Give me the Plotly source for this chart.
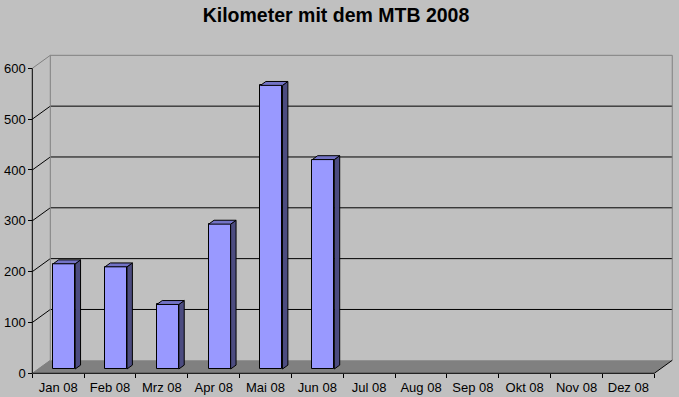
import plotly.graph_objects as go

# ---- data ----
months = ["Jan 08", "Feb 08", "Mrz 08", "Apr 08", "Mai 08", "Jun 08",
          "Jul 08", "Aug 08", "Sep 08", "Okt 08", "Nov 08", "Dez 08"]
km = [207, 201, 127, 285, 558, 412, None, None, None, None, None, None]
y_ticks = [0, 100, 200, 300, 400, 500, 600]
title_text = "Kilometer mit dem MTB 2008"

# ---- geometry (pixel calibration of the pseudo-3D frame) ----
W, H = 679, 397
L, R, T, B = 22, 3, 50, 17
XPX = 51.83          # px per category
YPX = 0.5083         # px per km
X0PX = 32.3          # pixel of category edge -0.5
Y0PX = 373.3         # pixel of value 0 (front)
plot_w = W - L - R
plot_h = H - T - B
xr = [-0.5 - (X0PX - L) / XPX, -0.5 + (W - R - X0PX) / XPX]
yr = [-((H - B) - Y0PX) / YPX, (Y0PX - T) / YPX]
DX = 18 / XPX        # depth offset in x data units
DY = 13 / YPX        # depth offset in y data units
FRONT = 0.33         # bar front face depth fraction
DEPTH = 0.30         # bar depth fraction
BW = 22 / XPX        # bar width

n = len(months)
xl, xrt = -0.5, n - 0.5
ymax = y_ticks[-1]

BG = "#C0C0C0"
FACE = "#9999FF"
TOP = "#7373C6"
SIDE = "#4C4C80"
GRAY = "#808080"

shapes = []
# floor
shapes.append(dict(type="path", layer="below",
                   path=f"M {xl},0 L {xrt},0 L {xrt+DX},{DY} L {xl+DX},{DY} Z",
                   fillcolor=GRAY, line=dict(width=0)))
# back wall gridlines + left wall diagonals
for v in y_ticks[1:-1]:
    shapes.append(dict(type="line", layer="below", x0=xl + DX, x1=xrt + DX,
                       y0=v + DY, y1=v + DY, line=dict(color="black", width=1)))
    shapes.append(dict(type="line", layer="below", x0=xl, x1=xl + DX,
                       y0=v, y1=v + DY, line=dict(color="black", width=1)))
# wall borders (gray)
shapes.append(dict(type="line", layer="below", x0=xl, x1=xl + DX, y0=ymax, y1=ymax + DY,
                   line=dict(color=GRAY, width=1)))
shapes.append(dict(type="line", layer="below", x0=xl + DX, x1=xrt + DX, y0=ymax + DY, y1=ymax + DY,
                   line=dict(color=GRAY, width=1)))
shapes.append(dict(type="line", layer="below", x0=xl + DX, x1=xl + DX, y0=DY, y1=ymax + DY,
                   line=dict(color=GRAY, width=1)))
shapes.append(dict(type="line", layer="below", x0=xrt + DX, x1=xrt + DX, y0=DY, y1=ymax + DY,
                   line=dict(color=GRAY, width=1)))
shapes.append(dict(type="line", layer="below", x0=xl, x1=xl + DX, y0=0, y1=DY,
                   line=dict(color=GRAY, width=1)))
# axes lines
shapes.append(dict(type="line", layer="above", x0=xl, x1=xl, y0=0, y1=ymax,
                   line=dict(color="black", width=1)))
shapes.append(dict(type="line", layer="above", x0=xl, x1=xrt, y0=0, y1=0,
                   line=dict(color="black", width=1)))
shapes.append(dict(type="line", layer="above", x0=xrt, x1=xrt + DX, y0=0, y1=DY,
                   line=dict(color="black", width=1)))

fig = go.Figure()

# front faces via library bars
bx = [i + FRONT * DX for i in range(n)]
fig.add_trace(go.Bar(x=bx, y=km, base=FRONT * DY, width=BW,
                     marker=dict(color=FACE, line=dict(color="black", width=1)),
                     showlegend=False, hoverinfo="skip"))

# side and top faces computed from the data
sx, sy, tx, ty = [], [], [], []
ddx, ddy = DEPTH * DX, DEPTH * DY
for i, v in enumerate(km):
    if v is None:
        continue
    b0 = FRONT * DY
    top = b0 + v
    left = bx[i] - BW / 2
    right = bx[i] + BW / 2
    sx += [right, right + ddx, right + ddx, right, right, None]
    sy += [b0, b0 + ddy, top + ddy, top, b0, None]
    tx += [left, right, right + ddx, left + ddx, left, None]
    ty += [top, top, top + ddy, top + ddy, top, None]

fig.add_trace(go.Scatter(x=sx, y=sy, mode="lines", fill="toself", fillcolor=SIDE,
                         line=dict(color="black", width=1), showlegend=False, hoverinfo="skip"))
fig.add_trace(go.Scatter(x=tx, y=ty, mode="lines", fill="toself", fillcolor=TOP,
                         line=dict(color="black", width=1), showlegend=False, hoverinfo="skip"))

font = "Liberation Sans, Arial, sans-serif"
fig.update_layout(
    width=W, height=H,
    margin=dict(l=L, r=R, t=T, b=B, pad=0, autoexpand=False),
    paper_bgcolor=BG, plot_bgcolor=BG,
    showlegend=False,
    title=dict(text=f"<b>{title_text}</b>", x=336 / W, xref="container", xanchor="center",
               y=1 - 15 / H, yref="container", yanchor="middle", automargin=False,
               font=dict(family=font, size=19.5, color="black")),
    font=dict(family=font, size=13, color="black"),
    bargap=0,
    shapes=shapes,
    xaxis=dict(range=xr, showgrid=False, zeroline=False, showline=False, automargin=False,
               tickmode="array", tickvals=list(range(n)), ticktext=months, ticks="",
               anchor="free", position=((H - B) - Y0PX) / plot_h, ticklabelstandoff=5,
               minor=dict(tickmode="array", tickvals=[i - 0.5 for i in range(n + 1)],
                          ticks="outside", ticklen=4, tickcolor="black", tickwidth=1, showgrid=False),
               tickfont=dict(family=font, size=13, color="black"), fixedrange=True),
    yaxis=dict(range=yr, showgrid=False, zeroline=False, showline=False, automargin=False,
               tickmode="array", tickvals=y_ticks, ticks="outside", ticklen=4,
               tickcolor="black", tickwidth=1,
               anchor="free", position=(X0PX - L) / plot_w,
               tickfont=dict(family=font, size=13, color="black"), fixedrange=True),
)

fig.write_html("out.html", config={"displayModeBar": False},
               post_script="document.body.style.margin='0';document.body.style.padding='0';document.body.style.overflow='hidden';")
